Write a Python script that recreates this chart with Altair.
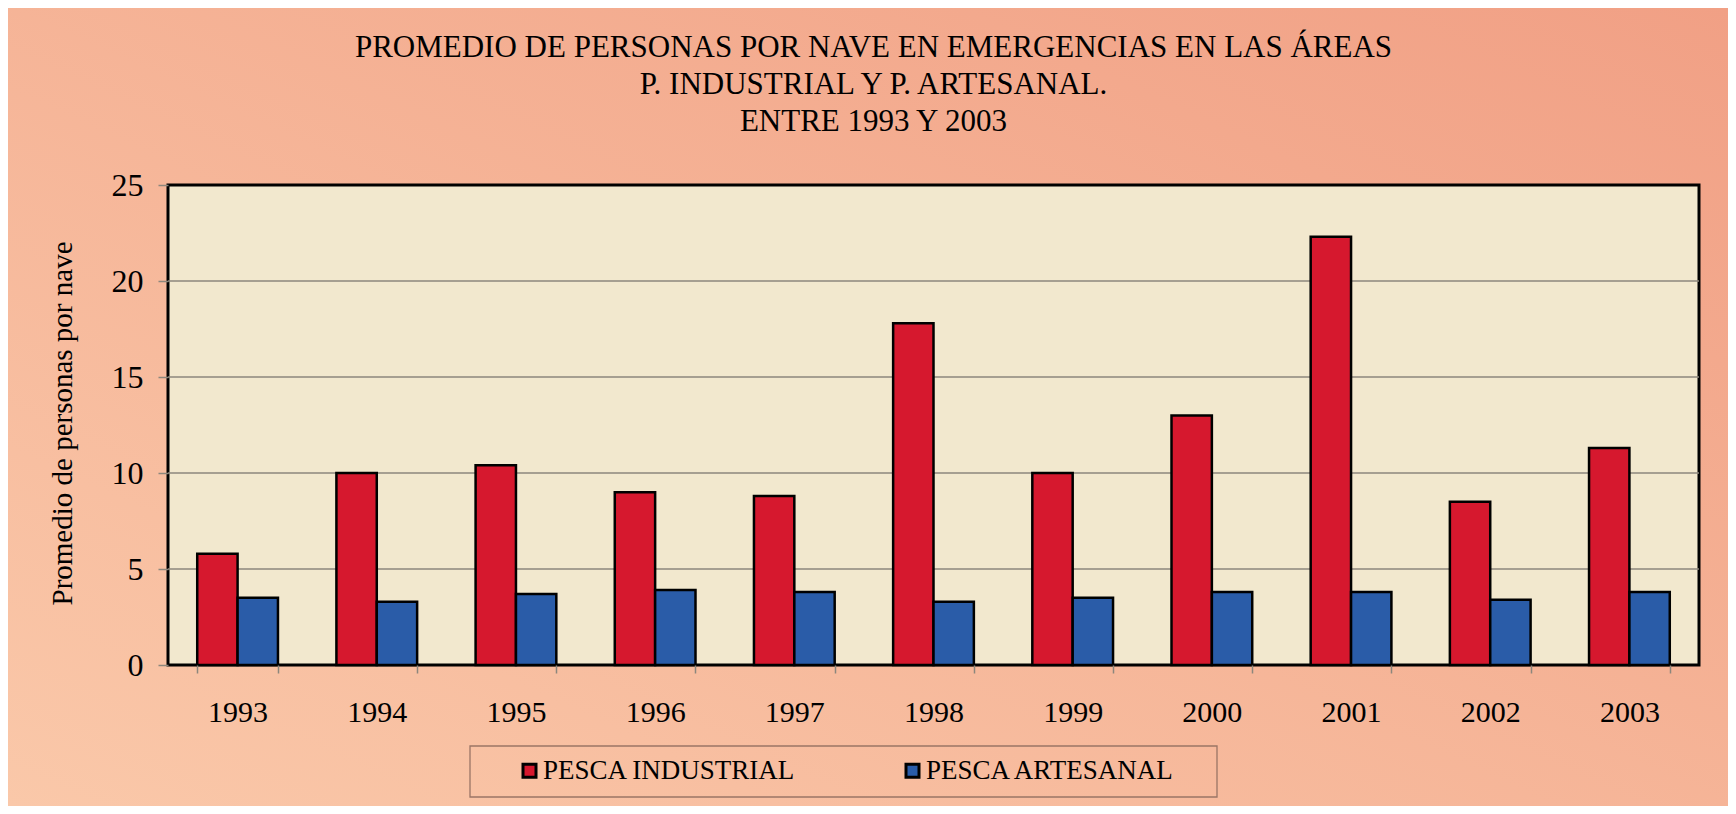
import altair as alt
import pandas as pd

years = ["1993", "1994", "1995", "1996", "1997", "1998", "1999", "2000", "2001", "2002", "2003"]
industrial = [5.8, 10.0, 10.4, 9.0, 8.8, 17.8, 10.0, 13.0, 22.3, 8.5, 11.3]
artesanal = [3.5, 3.3, 3.7, 3.9, 3.8, 3.3, 3.5, 3.8, 3.8, 3.4, 3.8]
series = ["PESCA INDUSTRIAL", "PESCA ARTESANAL"]
colors = ["#D6182E", "#2A5CA8"]
y_ticks = [0, 5, 10, 15, 20, 25]
grid_vals = [5, 10, 15, 20]
title_lines = [
    "PROMEDIO DE PERSONAS POR NAVE EN EMERGENCIAS EN LAS ÁREAS",
    "P. INDUSTRIAL Y P. ARTESANAL.",
    "ENTRE 1993 Y 2003",
]
y_title = "Promedio de personas por nave"

W, H = 1531, 480
PAD = {"left": 160, "top": 177, "right": 29, "bottom": 141}
FONT = "Liberation Serif"

rows = []
for i, yr in enumerate(years):
    rows.append({"year": yr, "serie": series[0], "value": industrial[i]})
    rows.append({"year": yr, "serie": series[1], "value": artesanal[i]})
df = pd.DataFrame(rows)
one = pd.DataFrame({"k": [0]})
grid_df = pd.DataFrame({"g": grid_vals})

yscale = alt.Scale(domain=[0, 25], nice=False)

bg = alt.Chart(one).mark_rect(
    color={
        "gradient": "linear", "x1": 0, "y1": 1, "x2": 1, "y2": 0,
        "stops": [{"offset": 0, "color": "#FAC8A9"}, {"offset": 1, "color": "#F1A085"}],
    }
).encode(
    x=alt.value(-PAD["left"]), x2=alt.value(W + PAD["right"]),
    y=alt.value(-PAD["top"]), y2=alt.value(H + PAD["bottom"]),
)

plot_bg = alt.Chart(one).mark_rect(fill="#F2E8CE", stroke="black", strokeWidth=3).encode(
    x=alt.value(0), x2=alt.value(W), y=alt.value(0), y2=alt.value(H)
)

grid = alt.Chart(grid_df).mark_rule(color="#8C877C", strokeWidth=1.5).encode(
    y=alt.Y("g:Q", scale=yscale)
)

bars = alt.Chart(df).mark_bar(stroke="black", strokeWidth=2.5).encode(
    x=alt.X(
        "year:N", sort=years, title=None,
        scale=alt.Scale(paddingInner=0.42, paddingOuter=0.21),
        axis=alt.Axis(
            labelAngle=0, labelFont=FONT, labelFontSize=30, labelColor="black",
            labelPadding=24, tickBand="extent", tickSize=8, tickColor="#8C877C",
            tickWidth=1.5, domain=False, grid=False, zindex=1,
        ),
    ),
    xOffset=alt.XOffset("serie:N", sort=series, scale=alt.Scale(paddingInner=0, paddingOuter=0)),
    y=alt.Y(
        "value:Q", scale=yscale, title=y_title,
        axis=alt.Axis(
            values=y_ticks, labelFont=FONT, labelFontSize=32, labelColor="black",
            labelPadding=15, tickSize=10, tickColor="#8C877C", tickWidth=1.5,
            domain=False, grid=False, titleFont=FONT, titleFontSize=29,
            titleFontWeight="normal", titleColor="black", titleX=-97, titleY=H / 2 - 2,
            titleAlign="center", titleBaseline="alphabetic", titleAngle=270, zindex=1,
        ),
    ),
    color=alt.Color(
        "serie:N", sort=series,
        scale=alt.Scale(domain=series, range=colors),
        legend=alt.Legend(
            title=None, orient="none", legendX=346, legendY=572, direction="horizontal",
            symbolType="square", symbolSize=169, symbolStrokeColor="black",
            symbolStrokeWidth=3, symbolOffset=2, labelFont=FONT, labelFontSize=27,
            labelColor="black", labelOffset=0, columnPadding=101, padding=0,
            labelLimit=600, zindex=2,
        ),
    ),
)

legend_box = alt.Chart(one).mark_rect(filled=False, stroke="#9A7566", strokeWidth=1.3).encode(
    x=alt.value(302), x2=alt.value(1049), y=alt.value(561), y2=alt.value(612)
)

chart = alt.layer(bg, plot_bg, grid, bars, legend_box).properties(
    width=W, height=H,
    autosize=alt.AutoSizeParams(type="none"),
    padding=PAD,
    background="#F5B596",
    title=alt.TitleParams(
        text=title_lines, font=FONT, fontSize=31, fontWeight="normal", color="black",
        lineHeight=37, anchor="middle", dx=-60, offset=0, dy=130, zindex=2,
    ),
).configure_view(stroke=None)

chart.save("out.html", embed_options={"renderer": "svg", "actions": False})
